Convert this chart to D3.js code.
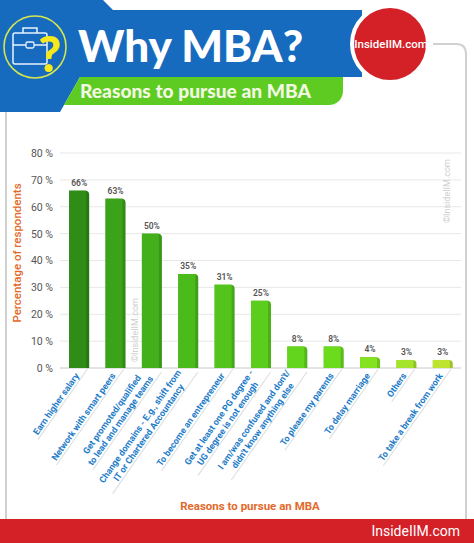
<!DOCTYPE html>
<html>
<head>
<meta charset="utf-8">
<script src="https://cdn.jsdelivr.net/npm/d3@7"></script>
<style>
  body { margin: 0; background: #fff; }
  svg { display: block; font-family: Roboto, "Open Sans", sans-serif; }
</style>
</head>
<body>
<div id="chart"></div>
<script>
// Data
var categories = [
  ["Earn higher salary"],
  ["Network with smart peers"],
  ["Get promoted/qualified", "to lead and manage teams"],
  ["Change domains - E.g., shift from", "IT or Chartered Accountancy"],
  ["To become an entrepreneur"],
  ["Get at least one PG degree -", "UG degree is not enough"],
  ["I am/was confused and don't/", "didn't know anything else"],
  ["To please my parents"],
  ["To delay marriage"],
  ["Others"],
  ["To take a break from work"]
];
var values = [66, 63, 50, 35, 31, 25, 8, 8, 4, 3, 3];
var yTicks = [0, 10, 20, 30, 40, 50, 60, 70, 80];

var barColors = ["#2e8c17", "#3aa31a", "#43b01b", "#4bbb1b", "#53c41b", "#5bcd1c",
                 "#64d51d", "#6cdb1e", "#84e220", "#a5e42a", "#bde42f"];

var svgWidth = 474;
var svgHeight = 543;

var svg = d3.select("#chart")
  .append("svg")
  .attr("width", svgWidth)
  .attr("height", svgHeight);

// ---- frame lines
svg.append("path")
  .attr("d", "M433,44 H456 Q466,44 466,54 V519")
  .attr("fill", "none")
  .attr("stroke", "#d0d0d0")
  .attr("stroke-width", 2);
svg.append("path")
  .attr("d", "M6,112 V519")
  .attr("fill", "none")
  .attr("stroke", "#d0d0d0")
  .attr("stroke-width", 2);

// ---- header
svg.append("polygon")
  .attr("points", "0,0 103,0 113,10 362,10 362,77 80,77 60,112 0,112")
  .attr("fill", "#166bbf");

svg.append("path")
  .attr("d", "M80,77 H343 V91 A14,14 0 0 1 329,105 H64 Z")
  .attr("fill", "#5dcb22");

// icon
var icon = svg.append("g");
icon.append("circle")
  .attr("cx", 35).attr("cy", 47).attr("r", 31)
  .attr("fill", "none")
  .attr("stroke", "#d6e64e")
  .attr("stroke-width", 1.6);
icon.append("rect")
  .attr("x", 13).attr("y", 33).attr("width", 34).attr("height", 31)
  .attr("rx", 2)
  .attr("fill", "none")
  .attr("stroke", "#e8f2ff")
  .attr("stroke-width", 1.5);
icon.append("path")
  .attr("d", "M23,33 V28 H37 V33 M13,45 H26 M34,45 H47")
  .attr("fill", "none")
  .attr("stroke", "#e8f2ff")
  .attr("stroke-width", 1.5);
icon.append("rect")
  .attr("x", 26).attr("y", 42).attr("width", 8).attr("height", 6)
  .attr("rx", 1.5)
  .attr("fill", "none")
  .attr("stroke", "#e8f2ff")
  .attr("stroke-width", 1.3);
icon.append("text")
  .attr("x", 50).attr("y", 72)
  .attr("text-anchor", "middle")
  .attr("font-family", "Lato, sans-serif")
  .attr("font-weight", 900)
  .attr("font-size", 50)
  .attr("fill", "#f6e81a")
  .text("?");

svg.append("text")
  .attr("x", 78).attr("y", 62)
  .attr("font-family", "Lato, sans-serif")
  .attr("font-weight", 900)
  .attr("font-size", 44)
  .attr("fill", "#ffffff")
  .text("Why MBA?");

svg.append("text")
  .attr("x", 80).attr("y", 98)
  .attr("font-family", "Lato, sans-serif")
  .attr("font-weight", 900)
  .attr("font-size", 19.2)
  .attr("fill", "#f3f8e2")
  .text("Reasons to pursue an MBA");

// red badge
svg.append("circle")
  .attr("cx", 390).attr("cy", 44).attr("r", 38)
  .attr("fill", "#d42027")
  .attr("stroke", "#ffffff")
  .attr("stroke-width", 4);
svg.append("text")
  .attr("x", 391).attr("y", 48)
  .attr("text-anchor", "middle")
  .attr("font-size", 11.5)
  .attr("font-weight", 500)
  .attr("fill", "#ffffff")
  .text("InsideIIM.com");

// ---- footer
svg.append("rect")
  .attr("x", 0).attr("y", 519)
  .attr("width", svgWidth).attr("height", svgHeight - 519)
  .attr("fill", "#d42027");
svg.append("text")
  .attr("x", 460).attr("y", 536)
  .attr("text-anchor", "end")
  .attr("font-size", 14)
  .attr("fill", "#ffffff")
  .text("InsideIIM.com");

// ---- chart
var xScale = d3.scaleBand()
  .domain(d3.range(categories.length))
  .range([61, 461])
  .paddingInner(0.45)
  .paddingOuter(0.225);

var yScale = d3.scaleLinear()
  .domain([0, 80])
  .range([368, 153]);

var chartGroup = svg.append("g");

// grid lines
chartGroup.selectAll(".grid")
  .data(yTicks)
  .enter()
  .append("line")
  .attr("x1", 60).attr("x2", 461)
  .attr("y1", d => yScale(d)).attr("y2", d => yScale(d))
  .attr("stroke", d => d === 0 ? "#c8c8c8" : "#e8e8e8")
  .attr("stroke-width", 1);

// y axis
var yAxis = d3.axisLeft(yScale)
  .tickValues(yTicks)
  .tickSize(0)
  .tickPadding(0)
  .tickFormat(d => d + " %");

chartGroup.append("g")
  .attr("transform", "translate(53,0)")
  .call(yAxis)
  .call(g => g.select(".domain").remove())
  .call(g => g.selectAll("text")
    .attr("font-size", 10.5)
    .attr("font-family", "Roboto, sans-serif")
    .attr("fill", "#555"));

// watermarks
[[135, 330], [447, 191]].forEach(function(p) {
  chartGroup.append("text")
    .attr("transform", "translate(" + p[0] + "," + p[1] + ") rotate(-90)")
    .attr("text-anchor", "middle")
    .attr("dy", "0.35em")
    .attr("font-size", 9)
    .attr("fill", "#cfcfcf")
    .text("\u00a9InsideIIM.com");
});

// bars
var bw = xScale.bandwidth();
var bars = chartGroup.selectAll(".bar")
  .data(values)
  .enter()
  .append("g");

bars.append("path")
  .attr("d", function(d, i) {
    var x0 = xScale(i), x1 = x0 + bw, y0 = yScale(d), yb = yScale(0), r = 4;
    return "M" + x0 + "," + yb + " V" + y0 + " H" + (x1 - r) +
      " Q" + x1 + "," + y0 + " " + x1 + "," + (y0 + r) + " V" + yb + " Z";
  })
  .attr("fill", (d, i) => d3.color(barColors[i]).darker(0.45));

bars.append("rect")
  .attr("x", (d, i) => xScale(i))
  .attr("y", d => yScale(d))
  .attr("width", bw - 3)
  .attr("height", d => yScale(0) - yScale(d))
  .attr("fill", (d, i) => barColors[i]);

bars.append("text")
  .attr("x", (d, i) => xScale(i) + bw / 2)
  .attr("y", d => yScale(d) - 5)
  .attr("text-anchor", "middle")
  .attr("font-size", 8.5)
  .attr("font-weight", 600)
  .attr("fill", "#555")
  .text(d => d + "%");

// category labels
var lineH = 10.5;
var labels = chartGroup.selectAll(".cat")
  .data(categories)
  .enter()
  .append("g")
  .attr("transform", function(d, i) {
    var cx = xScale(i) + bw / 2 - 2 - 3 * (d.length - 1);
    return "translate(" + cx + ",374) rotate(-55)";
  });

labels.each(function(lines) {
  var g = d3.select(this);
  var n = lines.length;
  var texts = lines.map(function(line, k) {
    return g.append("text")
      .attr("y", 3 + (k - (n - 1) / 2) * lineH)
      .attr("font-size", 9)
      .attr("font-weight", 700)
      .attr("fill", "#1d7cc9")
      .text(line);
  });
  var w = d3.max(texts, t => t.node().getComputedTextLength());
  texts.forEach(function(t) {
    t.attr("x", -w / 2).attr("text-anchor", "middle");
  });
  var ly = 3 + ((n - 1) / 2) * lineH + 2.5;
  g.insert("line", "text")
    .attr("x1", 10).attr("x2", -w - 3)
    .attr("y1", ly).attr("y2", ly)
    .attr("stroke", "#dcdcdc")
    .attr("stroke-width", 1);
});

// axis titles
chartGroup.append("text")
  .attr("transform", "translate(21,253) rotate(-90)")
  .attr("text-anchor", "middle")
  .attr("font-size", 11.5)
  .attr("font-weight", 500)
  .attr("fill", "#e2692a")
  .text("Percentage of respondents");

chartGroup.append("text")
  .attr("x", 250).attr("y", 510)
  .attr("text-anchor", "middle")
  .attr("font-size", 11.5)
  .attr("font-weight", 700)
  .attr("fill", "#e2692a")
  .text("Reasons to pursue an MBA");
</script>
</body>
</html>
